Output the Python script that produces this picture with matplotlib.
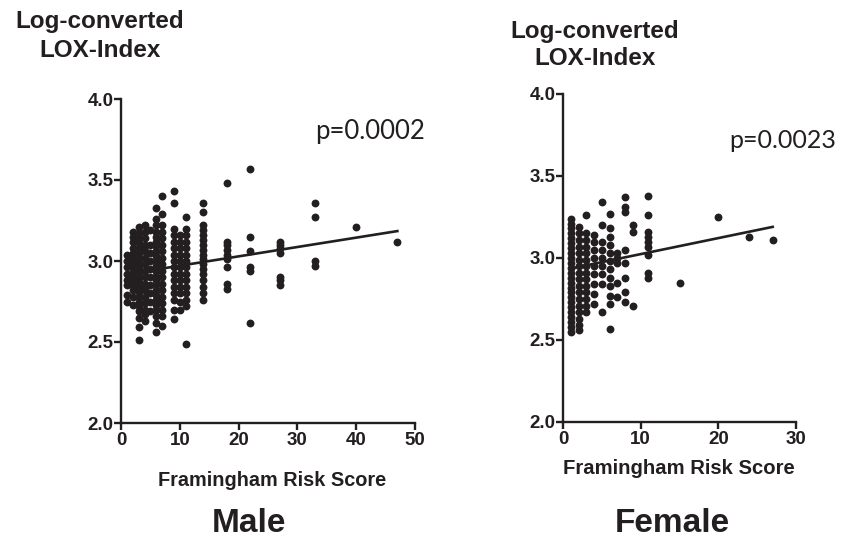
import matplotlib
matplotlib.use("Agg")
import matplotlib.pyplot as plt
import numpy as np

# ---------------- data ----------------
male_x_cols = [1, 2, 3, 4, 5, 6, 7, 9, 10, 11, 14, 18, 22, 27, 33, 40, 47]
male_y_cols = [
    [2.75, 2.79, 2.85, 2.88, 2.92, 2.96, 3.00, 3.04],
    [2.73, 2.78, 2.82, 2.85, 2.88, 2.90, 2.93, 2.96, 2.99, 3.02, 3.05, 3.08, 3.12, 3.15, 3.18],
    [2.51, 2.59, 2.65, 2.69, 2.72, 2.75, 2.78, 2.81, 2.84, 2.87, 2.90, 2.93, 2.96, 2.99, 3.02,
     3.05, 3.08, 3.11, 3.14, 3.17, 3.21],
    [2.63, 2.67, 2.70, 2.74, 2.78, 2.82, 2.86, 2.90, 2.94, 2.98, 3.02, 3.06, 3.10, 3.14, 3.18, 3.22],
    [2.69, 2.75, 2.80, 2.85, 2.90, 2.95, 3.00, 3.05, 3.10, 3.19],
    [2.56, 2.62, 2.66, 2.70, 2.73, 2.76, 2.79, 2.82, 2.85, 2.88, 2.91, 2.94, 2.97, 3.00, 3.03,
     3.06, 3.09, 3.12, 3.15, 3.18, 3.22, 3.26, 3.33],
    [2.60, 2.66, 2.70, 2.74, 2.78, 2.82, 2.86, 2.90, 2.94, 2.98, 3.02, 3.06, 3.10, 3.14, 3.18,
     3.22, 3.29, 3.40],
    [2.64, 2.70, 2.76, 2.80, 2.84, 2.88, 2.92, 2.96, 3.00, 3.04, 3.08, 3.12, 3.16, 3.20, 3.36, 3.43],
    [2.70, 2.75, 2.80, 2.84, 2.88, 2.92, 2.96, 3.00, 3.04, 3.08, 3.12, 3.16],
    [2.49, 2.72, 2.76, 2.80, 2.84, 2.88, 2.92, 2.96, 3.00, 3.04, 3.08, 3.12, 3.16, 3.20, 3.27],
    [2.76, 2.80, 2.84, 2.88, 2.92, 2.95, 2.98, 3.01, 3.04, 3.07, 3.10, 3.13, 3.16, 3.19, 3.22,
     3.30, 3.36],
    [2.83, 2.86, 2.96, 3.01, 3.04, 3.07, 3.10, 3.12, 3.48],
    [2.62, 2.94, 2.96, 3.06, 3.15, 3.57],
    [2.85, 2.88, 2.90, 3.05, 3.08, 3.10, 3.12],
    [2.97, 3.00, 3.27, 3.36],
    [3.21],
    [3.12],
]
male_fit = (0.00578, 2.913)      # slope, intercept
male_fit_range = (1, 47)
male_p = "p=0.0002"

female_x_cols = [1, 2, 3, 4, 5, 6, 7, 8, 9, 11, 15, 20, 24, 27]
female_y_cols = [
    [2.55, 2.58, 2.61, 2.64, 2.67, 2.70, 2.73, 2.76, 2.79, 2.82, 2.85, 2.88, 2.91, 2.94, 2.97,
     3.00, 3.03, 3.06, 3.09, 3.12, 3.15, 3.18, 3.21, 3.24],
    [2.56, 2.59, 2.63, 2.67, 2.71, 2.75, 2.79, 2.83, 2.87, 2.91, 2.95, 2.99, 3.03, 3.07, 3.11,
     3.15, 3.19],
    [2.67, 2.71, 2.75, 2.79, 2.83, 2.87, 2.91, 2.95, 2.99, 3.03, 3.07, 3.11, 3.15, 3.26],
    [2.72, 2.78, 2.84, 2.90, 2.95, 3.00, 3.05, 3.10, 3.14],
    [2.67, 2.84, 2.90, 2.95, 3.00, 3.05, 3.10, 3.20, 3.34],
    [2.57, 2.72, 2.77, 2.83, 2.88, 2.93, 2.98, 3.03, 3.08, 3.13, 3.18, 3.27],
    [2.76, 2.85, 2.97, 3.00, 3.03],
    [2.73, 2.79, 2.88, 2.97, 3.05, 3.28, 3.31, 3.37],
    [2.71, 3.16, 3.20],
    [2.88, 2.91, 3.02, 3.07, 3.10, 3.13, 3.16, 3.26, 3.38],
    [2.85],
    [3.25],
    [3.13],
    [3.11],
]
female_fit = (0.00977, 2.926)
female_fit_range = (1, 27)
female_p = "p=0.0023"

y_ticks = [2.0, 2.5, 3.0, 3.5, 4.0]
male_x_ticks = [0, 10, 20, 30, 40, 50]
female_x_ticks = [0, 10, 20, 30]
y_label = "Log-converted\nLOX-Index"
x_label = "Framingham Risk Score"

# ---------------- drawing ----------------
INK = "#231f20"
BOLD = dict(family=["Liberation Sans", "DejaVu Sans"], weight="bold")

W, H = 849, 538
fig = plt.figure(figsize=(W / 100, H / 100), dpi=100)
fig.patch.set_facecolor("white")


def px_axes(x0, y0, x1, y1):
    return fig.add_axes([x0 / W, 1 - y1 / H, (x1 - x0) / W, (y1 - y0) / H])


def style(ax, xticks, xmax):
    ax.set_xlim(0, xmax)
    ax.set_ylim(2.0, 4.0)
    ax.set_xticks(xticks)
    ax.set_yticks(y_ticks)
    ax.set_xticklabels([str(t) for t in xticks], fontsize=13.5, color=INK, **BOLD)
    ax.set_yticklabels([f"{t:.1f}" for t in y_ticks], fontsize=13.5, color=INK, **BOLD)
    for s in ("top", "right"):
        ax.spines[s].set_visible(False)
    for s in ("left", "bottom"):
        ax.spines[s].set_linewidth(1.7)
        ax.spines[s].set_color(INK)
    ax.tick_params(axis="y", direction="out", length=5, width=1.7, color=INK, pad=0.5)
    ax.tick_params(axis="x", direction="out", length=5, width=1.7, color=INK, pad=1.5)
    ax.patch.set_alpha(0)


def draw(ax, xcols, ycols, fit, frange):
    xs = np.concatenate([[x] * len(v) for x, v in zip(xcols, ycols)])
    ys = np.concatenate(ycols)
    ax.scatter(xs, ys, s=32, color=INK, linewidths=0, zorder=3, clip_on=False)
    fx = np.array(frange, dtype=float)
    ax.plot(fx, fit[0] * fx + fit[1], color=INK, lw=1.9, zorder=4)


ax1 = px_axes(121, 99, 415, 423)
style(ax1, male_x_ticks, 50)
draw(ax1, male_x_cols, male_y_cols, male_fit, male_fit_range)

ax2 = px_axes(563, 94, 796, 422)
style(ax2, female_x_ticks, 30)
draw(ax2, female_x_cols, female_y_cols, female_fit, female_fit_range)


def ftext(x, y, s, **kw):
    fig.text(x / W, 1 - y / H, s, **kw)


ftext(100, 36, y_label, ha="center", va="center", fontsize=17.5, color=INK,
      linespacing=1.3, **BOLD)
ftext(595, 45, y_label, ha="center", va="center", fontsize=17.5, color=INK,
      linespacing=1.2, **BOLD)

ftext(272, 480, x_label, ha="center", va="center", fontsize=14.3, color=INK, **BOLD)
ftext(679, 469, x_label, ha="center", va="center", fontsize=14.6, color=INK, **BOLD)

ftext(249, 523, "Male", ha="center", va="center", fontsize=24, color=INK, **BOLD)
ftext(672, 523, "Female", ha="center", va="center", fontsize=24, color=INK, **BOLD)

ftext(370, 131, male_p, ha="center", va="center", fontsize=18.5, color=INK,
      family=["Lato", "DejaVu Sans"])
ftext(783, 140, female_p, ha="center", va="center", fontsize=18, color=INK,
      family=["Lato", "DejaVu Sans"])

fig.savefig("out.png", dpi=100)
